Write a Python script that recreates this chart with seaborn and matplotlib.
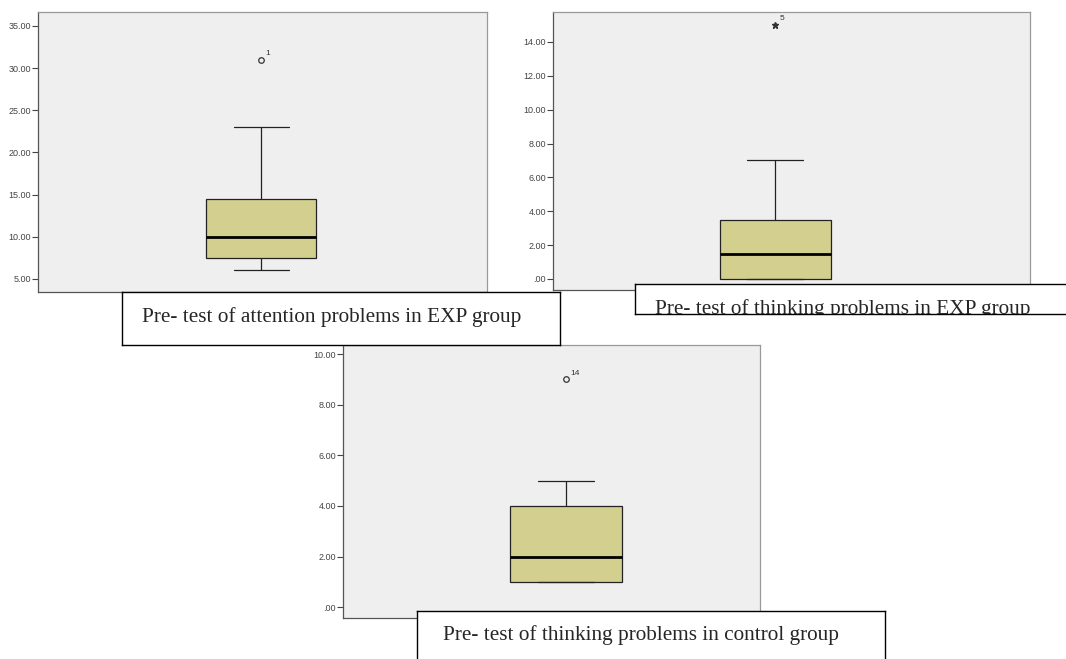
import matplotlib
matplotlib.use("Agg")
import matplotlib.pyplot as plt
import seaborn as sns
from matplotlib.ticker import FuncFormatter

# ---------------- data ----------------
attention_exp = [6, 7, 7.5, 9, 10, 12, 14.5, 23, 31]      # Q1 7.5, median 10, Q3 14.5, whiskers 6-23, outlier 31
thinking_exp = [0, 0, 0, 1, 1.5, 2, 3.5, 7, 15]            # Q1 0, median 1.5, Q3 3.5, whisker 7, extreme 15
thinking_ctrl = [1, 1, 1, 1.5, 2, 3, 4, 5, 9]              # Q1 1, median 2, Q3 4, whisker 5, outlier 9

attention_ticks = [5, 10, 15, 20, 25, 30, 35]
thinking_exp_ticks = [0, 2, 4, 6, 8, 10, 12, 14]
thinking_ctrl_ticks = [0, 2, 4, 6, 8, 10]

outlier_labels = ["1", "5", "14"]
captions = ["Pre- test of attention problems in EXP group",
            "Pre- test of thinking problems in EXP group",
            "Pre- test of thinking problems in control group"]

# ---------------- style ----------------
sns.set_style("white")
plt.rcParams["font.family"] = ["Liberation Sans", "DejaVu Sans"]

W, H = 1066, 659
fig = plt.figure(figsize=(W / 100, H / 100), dpi=100)
fig.patch.set_facecolor("white")

BOX_COLOR = "#d3cf8f"
BG = "#efefef"


def px_axes(x0, y0, x1, y1, **kw):
    return fig.add_axes([x0 / W, 1 - y1 / H, (x1 - x0) / W, (y1 - y0) / H], **kw)


def fmt(v, _):
    s = f"{v:.2f}"
    return s[1:] if s.startswith("0") else s


panels = [
    # data, ticks, ylim, axes px box, box centre px, box width px, extreme?
    (attention_exp, attention_ticks, (3.45, 36.65), (38, 12, 487, 292), 261, 110, False),
    (thinking_exp, thinking_exp_ticks, (-0.65, 15.77), (553, 12, 1030, 290), 775, 111, True),
    (thinking_ctrl, thinking_ctrl_ticks, (-0.43, 10.36), (343, 345, 760, 618), 566, 112, False),
]

for i, (data, ticks, ylim, (x0, y0, x1, y1), cx, bw, extreme) in enumerate(panels):
    ax = px_axes(x0, y0, x1, y1)
    ax.set_facecolor(BG)
    if extreme:
        fp = dict(marker="*", markersize=5, markerfacecolor="#333333",
                  markeredgecolor="#333333", linestyle="none")
    else:
        fp = dict(marker="o", markersize=4, markerfacecolor="none",
                  markeredgecolor="#333333", markeredgewidth=0.9, linestyle="none")
    sns.boxplot(y=data, ax=ax, color=BOX_COLOR, saturation=1, width=0.25,
                linecolor="#222222", linewidth=0.9,
                medianprops=dict(color="black", linewidth=2),
                flierprops=fp)
    dpp = 0.25 / bw
    ax.set_xlim(-(cx - x0) * dpp, (x1 - cx) * dpp)
    ax.set_ylim(*ylim)
    ax.set_yticks(ticks)
    ax.yaxis.set_major_formatter(FuncFormatter(fmt))
    ax.set_xticks([])
    ax.set_xlabel("")
    ax.set_ylabel("")
    ax.tick_params(axis="y", direction="out", length=4, width=0.8, color="#444444",
                   labelsize=6.5, labelcolor="#444444", pad=1, left=True)
    for side, sp in ax.spines.items():
        sp.set_visible(True)
        sp.set_linewidth(0.9)
        sp.set_color("#555555" if side in ("left", "bottom") else "#999999")
    top = max(data)
    ax.annotate(outlier_labels[i], (0, top), xytext=(3, 2), textcoords="offset points",
                fontsize=6, color="#333333", ha="left", va="bottom")


# ---------------- caption boxes ----------------
def caption(x0, y0, x1, y1, tx, ty, text):
    cax = px_axes(x0, y0, x1, y1, zorder=10)
    cax.set_xlim(x0, x1)
    cax.set_ylim(y1, y0)
    cax.set_xticks([])
    cax.set_yticks([])
    cax.set_facecolor("white")
    for sp in cax.spines.values():
        sp.set_visible(True)
        sp.set_color("black")
        sp.set_linewidth(1.0)
    cax.text(tx, ty, text, family=["Liberation Serif", "DejaVu Serif"],
             fontsize=15.3, ha="left", va="baseline", clip_on=True)


caption(122, 292, 560, 345, 142, 322, captions[0])
caption(635, 284, 1070, 314, 655, 314, captions[1])
caption(417, 611, 885, 665, 443, 640, captions[2])

fig.savefig("out.png", dpi=100, facecolor="white")
